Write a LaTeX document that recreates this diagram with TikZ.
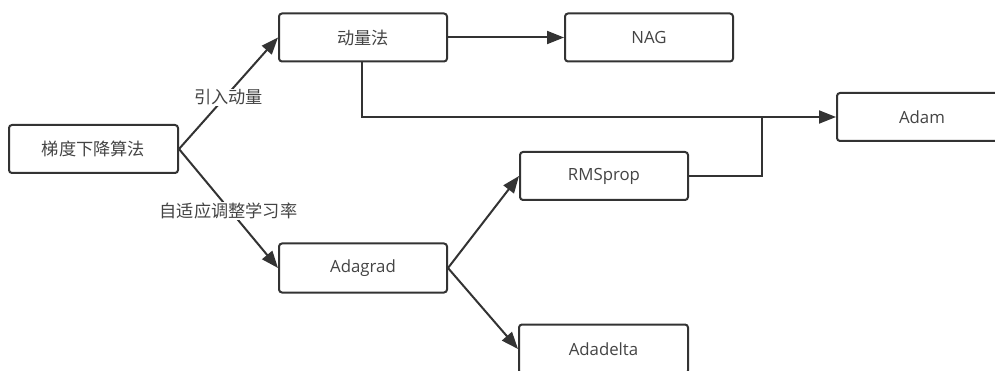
\documentclass[tikz,border=0pt]{standalone}
\usepackage{fontspec}
\setmainfont{Open Sans}
\newfontfamily\cjk{Noto Sans CJK SC}
\usetikzlibrary{arrows.meta}
\definecolor{ink}{HTML}{333333}
\definecolor{txt}{HTML}{444444}
\begin{document}
\begin{tikzpicture}[x=1pt,y=-1pt,
  box/.style={draw=ink, line width=2pt, rounded corners=3pt, fill=white,
    minimum width=168pt, minimum height=48pt, inner sep=0pt,
    text=txt, font=\fontsize{16.8}{19}\selectfont},
  cbox/.style={box, font=\cjk\fontsize{17.2}{19}\selectfont},
  link/.style={draw=ink, line width=2pt, -{Triangle[length=17pt,width=13pt]}},
  plain/.style={draw=ink, line width=2pt},
  lbl/.style={fill=white, inner sep=0.5pt, text=txt, font=\cjk\fontsize{17.2}{19}\selectfont}]
\useasboundingbox (0,0) rectangle (995,371);
% nodes
\node[cbox, minimum width=169pt] (gd) at (93.5,149) {梯度下降算法};
\node[cbox] (mom) at (363,37.5) {动量法};
\node[box] (nag) at (649,37.5) {NAG};
\node[box, minimum width=170pt] (adam) at (922,117) {Adam};
\node[box] (rms) at (604,176) {RMSprop};
\node[box, minimum height=49pt] (adagrad) at (363,268) {Adagrad};
\node[box, minimum width=169pt, minimum height=49pt] (adadelta) at (603.5,349) {Adadelta};
\coordinate (jn) at (762,117);
% connectors
\draw[link] (gd.east) -- node[lbl, pos=0.5, yshift=-4pt] {引入动量} (mom.west);
\draw[link] (gd.east) -- node[lbl, pos=0.5, yshift=-2.5pt] {自适应调整学习率} (adagrad.west);
\draw[link] (mom.east) -- (nag.west);
\draw[link] (mom.south -| 362,0) |- (adam.west);
\draw[plain] (rms.east) -| (jn);
\draw[link] (adagrad.east) -- (rms.west);
\draw[link] (adagrad.east) -- (adadelta.west);
\end{tikzpicture}
\end{document}
